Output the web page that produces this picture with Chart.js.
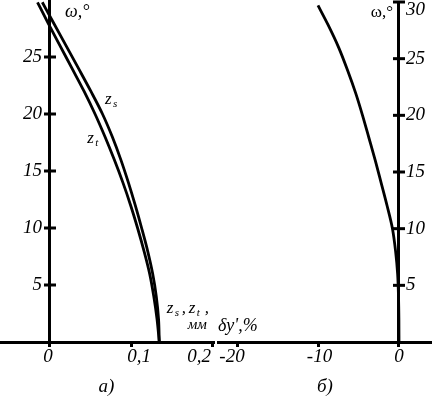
<!DOCTYPE html>
<html>
<head>
<meta charset="utf-8">
<script src="https://cdn.jsdelivr.net/npm/chart.js@4.4.1/dist/chart.umd.min.js"></script>
<style>
html, body { margin: 0; padding: 0; background: #fff; }
#wrap { position: relative; width: 432px; height: 398px; }
canvas { position: absolute; left: 0; top: 0; }
</style>
</head>
<body>
<div id="wrap">
  <canvas id="chartA" width="432" height="398"></canvas>
  <canvas id="chartB" width="432" height="398"></canvas>
</div>
<script>
// panel a) : field angle vs z_s, z_t (mm)
var omegaA = [0, 2, 4, 6, 8, 10, 12, 14, 16, 18, 20, 22, 24, 26, 28, 29.8];
var zS = [0.1349, 0.1340, 0.1312, 0.1267, 0.1205, 0.1131, 0.1052, 0.0967, 0.0874, 0.0769, 0.0648, 0.0504, 0.0352, 0.0198, 0.0043, -0.0095];
var zT = [0.1349, 0.1321, 0.1281, 0.1230, 0.1160, 0.1081, 0.0995, 0.0899, 0.0793, 0.0679, 0.0556, 0.0420, 0.0272, 0.0123, -0.0025, -0.0154];

// panel б) : field angle vs distortion dy' (%)
var omegaB = [0, 2, 4, 6, 8, 10, 12, 14, 16, 18, 20, 22, 24, 26, 28, 29.7];
var dyB = [0, -0.012, -0.06, -0.17, -0.42, -0.81, -1.47, -2.2, -2.94, -3.73, -4.53, -5.4, -6.4, -7.5, -8.82, -10.06];

// ticks
var xTicksA = [0, 0.1, 0.2];
var xLabelsA = ['0', '0,1', '0,2'];
var xTicksB = [-20, -10, 0];
var xLabelsB = ['-20', '-10', '0'];
var yTicksA = [5, 10, 15, 20, 25];
var yTicksB = [5, 10, 15, 20, 25, 30];

var serif = "'Liberation Serif', 'Times New Roman', serif";

function pts(xs, ys) {
    return ys.map(function (w, i) { return { x: xs[i], y: w }; });
}

// curves are functions of omega, so interpolate along the y axis
function lineSet(data) {
    return { data: data, showLine: true, borderColor: '#000', borderWidth: 2.8,
             pointRadius: 0, indexAxis: 'y', cubicInterpolationMode: 'monotone', fill: false };
}

// y ticks crossing the axis, y tick labels and x tick labels
function axisDecor(yTicks, side, xTicks, xLabels, xShift) {
    return {
        id: 'axisDecor',
        afterDraw: function (chart) {
            var ctx = chart.ctx, xs = chart.scales.x, ys = chart.scales.y;
            var ax = xs.getPixelForValue(0);
            ctx.save();
            ctx.strokeStyle = '#000';
            ctx.fillStyle = '#000';
            ctx.lineWidth = 3;
            ctx.font = 'italic 19px ' + serif;
            ctx.textBaseline = 'middle';
            yTicks.forEach(function (v) {
                var py = ys.getPixelForValue(v);
                ctx.beginPath();
                ctx.moveTo(ax - 6, py);
                ctx.lineTo(ax + 6, py);
                ctx.stroke();
                if (side === 'left') {
                    ctx.textAlign = 'right';
                    ctx.fillText(String(v), ax - 8, py);
                } else {
                    ctx.textAlign = 'left';
                    ctx.fillText(String(v), ax + 7, Math.max(py, 10));
                }
            });
            ctx.textAlign = 'center';
            var ly = ys.getPixelForValue(0) + 15;
            xTicks.forEach(function (v, i) {
                ctx.fillText(xLabels[i], xs.getPixelForValue(v) + xShift[i], ly);
            });
            ctx.restore();
        }
    };
}

function zLabel(ctx, x, y, sub) {
    ctx.font = 'italic 17px ' + serif;
    ctx.fillText('z', x, y);
    ctx.font = 'italic 11px ' + serif;
    ctx.fillText(sub, x + 8, y + 3);
}

var textsA = {
    id: 'textsA',
    afterDraw: function (chart) {
        var ctx = chart.ctx, xs = chart.scales.x, ys = chart.scales.y;
        ctx.save();
        ctx.fillStyle = '#000';
        ctx.textAlign = 'left';
        ctx.textBaseline = 'alphabetic';
        ctx.font = 'italic 18px ' + serif;
        ctx.fillText('ω,°', xs.getPixelForValue(0) + 15, 17);
        zLabel(ctx, xs.getPixelForValue(0.068), ys.getPixelForValue(20.9), 's');
        zLabel(ctx, xs.getPixelForValue(0.046), ys.getPixelForValue(17.5), 't');
        var bx = xs.getPixelForValue(0.144);
        zLabel(ctx, bx, 313, 's');
        ctx.font = 'italic 17px ' + serif;
        ctx.fillText(',', bx + 15, 313);
        zLabel(ctx, bx + 22, 313, 't');
        ctx.font = 'italic 17px ' + serif;
        ctx.fillText(',', bx + 38, 313);
        ctx.font = 'italic 15px ' + serif;
        ctx.fillText('мм', bx + 21, 329);
        ctx.restore();
    }
};

var textsB = {
    id: 'textsB',
    afterDraw: function (chart) {
        var ctx = chart.ctx, xs = chart.scales.x;
        ctx.save();
        ctx.fillStyle = '#000';
        ctx.textBaseline = 'alphabetic';
        ctx.font = '17px ' + serif;
        ctx.textAlign = 'right';
        ctx.fillText('ω,°', xs.getPixelForValue(0) - 6, 17);
        ctx.textAlign = 'left';
        ctx.font = 'italic 18px ' + serif;
        ctx.fillText("δy',%", chart.chartArea.left, 331);
        ctx.restore();
    }
};

function xScale(min, max, ticks, title) {
    return {
        type: 'linear', min: min, max: max, position: 'bottom',
        afterBuildTicks: function (s) { s.ticks = ticks.map(function (v) { return { value: v }; }); },
        afterFit: function (s) { s.height = 56; },
        border: { display: true, color: '#000', width: 3 },
        grid: { display: true, drawOnChartArea: false, drawTicks: true, tickLength: 5,
                tickWidth: 3, tickColor: '#000', color: '#000', lineWidth: 3 },
        ticks: { display: false },
        title: { display: true, text: title, color: '#000', padding: { top: 0, bottom: 0 },
                 font: { family: serif, style: 'italic', size: 19 } }
    };
}

function yScale(ticks) {
    return {
        type: 'linear', min: 0, max: 30, position: { x: 0 },
        afterBuildTicks: function (s) { s.ticks = ticks.map(function (v) { return { value: v }; }); },
        border: { display: true, color: '#000', width: 3 },
        grid: { display: false },
        ticks: { display: false }
    };
}

var common = {
    responsive: false,
    animation: false,
    plugins: { legend: { display: false }, tooltip: { enabled: false } }
};

new Chart(document.getElementById('chartA'), {
    type: 'scatter',
    data: { datasets: [lineSet(pts(zS, omegaA)), lineSet(pts(zT, omegaA))] },
    options: Object.assign({}, common, {
        layout: { padding: { left: 0, right: 219, top: 0, bottom: 0 } },
        scales: { x: xScale(-0.0617, 0.2012, xTicksA, 'а)'), y: yScale(yTicksA) }
    }),
    plugins: [axisDecor(yTicksA, 'left', xTicksA, xLabelsA, [-2, 8, -13]), textsA]
});

new Chart(document.getElementById('chartB'), {
    type: 'scatter',
    data: { datasets: [lineSet(pts(dyB, omegaB))] },
    options: Object.assign({}, common, {
        layout: { padding: { left: 218, right: 0, top: 2, bottom: 0 } },
        scales: { x: xScale(-22.48, 4.1, xTicksB, 'б)'), y: yScale(yTicksB) }
    }),
    plugins: [axisDecor(yTicksB, 'right', xTicksB, xLabelsB, [-6, 1, 0]), textsB]
});
</script>
</body>
</html>
